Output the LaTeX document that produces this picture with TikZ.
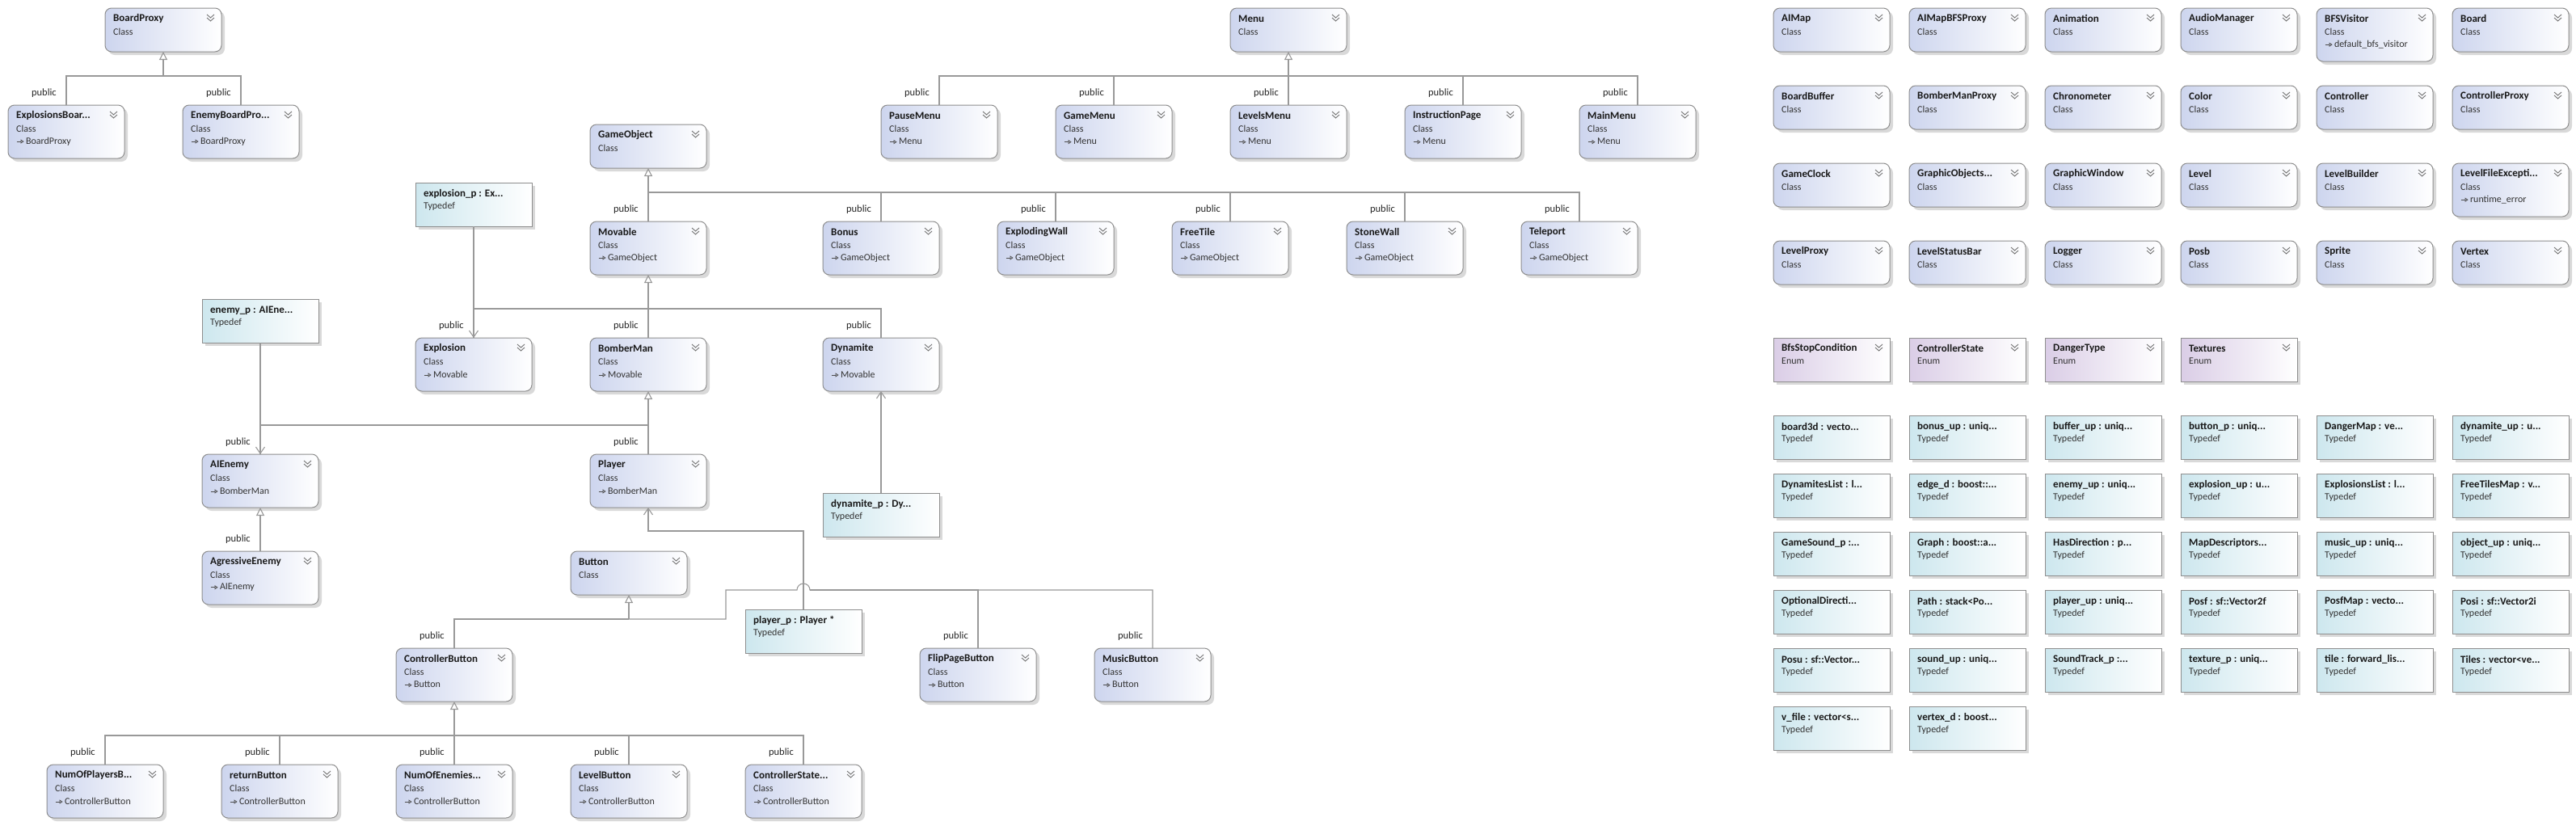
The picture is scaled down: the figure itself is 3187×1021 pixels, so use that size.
\documentclass[tikz,border=0pt]{standalone}
\usepackage{fontspec}
\setmainfont{Carlito}
\usetikzlibrary{shadows,arrows.meta}
\definecolor{bord}{HTML}{8E8E8E}
\definecolor{clsL}{HTML}{CDD5EE}
\definecolor{tdL}{HTML}{CDE7EE}
\definecolor{enL}{HTML}{DACDE6}
\definecolor{lineC}{HTML}{999999}
\definecolor{shad}{HTML}{D9D9D9}
\tikzset{
 ubox/.style={draw=bord, line width=1pt, minimum width=144pt, anchor=north west, inner sep=0pt, outer sep=0pt,
   drop shadow={shadow xshift=4pt, shadow yshift=-4pt, fill=shad, opacity=1}},
 clsbox/.style={ubox, rounded corners=8pt, left color=clsL, right color=white},
 tdbox/.style={ubox, minimum height=54pt, left color=tdL, right color=white},
 enbox/.style={ubox, minimum height=54pt, left color=enL, right color=white},
 nm/.style={anchor=west, inner sep=0pt, font=\fontsize{13}{14}\selectfont\bfseries, text=black!90},
 sub/.style={anchor=west, inner sep=0pt, font=\fontsize{12}{13}\selectfont, text=black!80},
 chev/.style={draw=black!55, line width=0.9pt},
 conn/.style={draw=lineC, line width=1.1pt},
 inhtip/.style={-{Triangle[open, length=10pt, width=10pt, line width=1.1pt]}},
 asstip/.style={-{Straight Barb[length=8pt, width=11pt]}},
 pub/.style={anchor=east, inner sep=0pt, font=\fontsize{12.5}{13}\selectfont, text=black!85},
}
\newcommand\inharrow{\tikz[baseline=-0.55ex]\draw[draw=black!70,line width=0.8pt,-{Triangle[open,length=4pt,width=5pt]}] (0pt,0pt) -- (9pt,0pt);}
\newcommand\chevron[1]{%
 \draw[chev] ([shift={(-18pt,-8pt)}]#1.north east) -- ++(4.5pt,-4pt) -- ++(4.5pt,4pt);
 \draw[chev] ([shift={(-18pt,-12pt)}]#1.north east) -- ++(4.5pt,-4pt) -- ++(4.5pt,4pt);}
\newcommand\klass[4]{%
 \node[clsbox, minimum height=54pt] (#1) at (#2,#3) {};
 \node[nm] (#1-n) at ([shift={(10pt,-13pt)}]#1.north west) {#4};
 \node[sub] (#1-k) at ([shift={(10pt,-29pt)}]#1.north west) {Class};
 \chevron{#1}}
\newcommand\klassb[5]{%
 \node[clsbox, minimum height=66pt] (#1) at (#2,#3) {};
 \node[nm] (#1-n) at ([shift={(10pt,-13pt)}]#1.north west) {#4};
 \node[sub] (#1-k) at ([shift={(10pt,-29pt)}]#1.north west) {Class};
 \node[sub] (#1-b) at ([shift={(10pt,-45pt)}]#1.north west) {\inharrow\,#5};
 \chevron{#1}}
\newcommand\tdef[4]{%
 \node[tdbox] (#1) at (#2,#3) {};
 \node[nm] (#1-n) at ([shift={(10pt,-14pt)}]#1.north west) {#4};
 \node[sub] (#1-k) at ([shift={(10pt,-29pt)}]#1.north west) {Typedef};}
\newcommand\enm[4]{%
 \node[enbox] (#1) at (#2,#3) {};
 \node[nm] (#1-n) at ([shift={(10pt,-13pt)}]#1.north west) {#4};
 \node[sub] (#1-k) at ([shift={(10pt,-29pt)}]#1.north west) {Enum};
 \chevron{#1}}
\newcommand\pub[1]{\node[pub] (#1-pub) at ([shift={(-12pt,15pt)}]#1.north) {public};}
\begin{document}
\begin{tikzpicture}[x=1pt,y=-1pt]
\fill[white] (0,0) rectangle (3187,1021);
\useasboundingbox (0,0) rectangle (3187,1021);
% ---------- left hierarchy ----------
\klass{bp}{130}{10}{BoardProxy}
\klassb{xbp}{10}{130}{ExplosionsBoar...}{BoardProxy}
\klassb{ebp}{226}{130}{EnemyBoardPro...}{BoardProxy}
\klass{menu}{1522}{10}{Menu}
\klassb{pm}{1090}{130}{PauseMenu}{Menu}
\klassb{gm}{1306}{130}{GameMenu}{Menu}
\klassb{lm}{1522}{130}{LevelsMenu}{Menu}
\klassb{ip}{1738}{130}{InstructionPage}{Menu}
\klassb{mm}{1954}{130}{MainMenu}{Menu}
\klass{go}{730}{154}{GameObject}
\tdef{expp}{514}{226}{explosion\_p : Ex...}
\klassb{mov}{730}{274}{Movable}{GameObject}
\klassb{bon}{1018}{274}{Bonus}{GameObject}
\klassb{xw}{1234}{274}{ExplodingWall}{GameObject}
\klassb{ft}{1450}{274}{FreeTile}{GameObject}
\klassb{sw}{1666}{274}{StoneWall}{GameObject}
\klassb{tp}{1882}{274}{Teleport}{GameObject}
\tdef{enp}{250}{370}{enemy\_p : AIEne...}
\klassb{expl}{514}{418}{Explosion}{Movable}
\klassb{bm}{730}{418}{BomberMan}{Movable}
\klassb{dyn}{1018}{418}{Dynamite}{Movable}
\klassb{aie}{250}{562}{AIEnemy}{BomberMan}
\klassb{pl}{730}{562}{Player}{BomberMan}
\tdef{dynp}{1018}{610}{dynamite\_p : Dy...}
\klassb{agr}{250}{682}{AgressiveEnemy}{AIEnemy}
\klass{btn}{706}{682}{Button}
\tdef{pp}{922}{754}{player\_p : Player *}
\klassb{cb}{490}{802}{ControllerButton}{Button}
\klassb{flip}{1138}{802}{FlipPageButton}{Button}
\klassb{mus}{1354}{802}{MusicButton}{Button}
\klassb{nop}{58}{946}{NumOfPlayersB...}{ControllerButton}
\klassb{ret}{274}{946}{returnButton}{ControllerButton}
\klassb{noe}{490}{946}{NumOfEnemies...}{ControllerButton}
\klassb{lvb}{706}{946}{LevelButton}{ControllerButton}
\klassb{csb}{922}{946}{ControllerState...}{ControllerButton}
% ---------- right panel ----------
\klass{a1}{2194}{10}{AIMap}
\klass{a2}{2362}{10}{AIMapBFSProxy}
\klass{a3}{2530}{10}{Animation}
\klass{a4}{2698}{10}{AudioManager}
\klassb{a5}{2866}{10}{BFSVisitor}{default\_bfs\_visitor}
\klass{a6}{3034}{10}{Board}
\klass{b1}{2194}{106}{BoardBuffer}
\klass{b2}{2362}{106}{BomberManProxy}
\klass{b3}{2530}{106}{Chronometer}
\klass{b4}{2698}{106}{Color}
\klass{b5}{2866}{106}{Controller}
\klass{b6}{3034}{106}{ControllerProxy}
\klass{c1}{2194}{202}{GameClock}
\klass{c2}{2362}{202}{GraphicObjects...}
\klass{c3}{2530}{202}{GraphicWindow}
\klass{c4}{2698}{202}{Level}
\klass{c5}{2866}{202}{LevelBuilder}
\klassb{c6}{3034}{202}{LevelFileExcepti...}{runtime\_error}
\klass{d1}{2194}{298}{LevelProxy}
\klass{d2}{2362}{298}{LevelStatusBar}
\klass{d3}{2530}{298}{Logger}
\klass{d4}{2698}{298}{Posb}
\klass{d5}{2866}{298}{Sprite}
\klass{d6}{3034}{298}{Vertex}
\enm{e1}{2194}{418}{BfsStopCondition}
\enm{e2}{2362}{418}{ControllerState}
\enm{e3}{2530}{418}{DangerType}
\enm{e4}{2698}{418}{Textures}
\tdef{f1}{2194}{514}{board3d : vecto...}
\tdef{f2}{2362}{514}{bonus\_up : uniq...}
\tdef{f3}{2530}{514}{buffer\_up : uniq...}
\tdef{f4}{2698}{514}{button\_p : uniq...}
\tdef{f5}{2866}{514}{DangerMap : ve...}
\tdef{f6}{3034}{514}{dynamite\_up : u...}
\tdef{g1}{2194}{586}{DynamitesList : l...}
\tdef{g2}{2362}{586}{edge\_d : boost::...}
\tdef{g3}{2530}{586}{enemy\_up : uniq...}
\tdef{g4}{2698}{586}{explosion\_up : u...}
\tdef{g5}{2866}{586}{ExplosionsList : l...}
\tdef{g6}{3034}{586}{FreeTilesMap : v...}
\tdef{h1}{2194}{658}{GameSound\_p :...}
\tdef{h2}{2362}{658}{Graph : boost::a...}
\tdef{h3}{2530}{658}{HasDirection : p...}
\tdef{h4}{2698}{658}{MapDescriptors...}
\tdef{h5}{2866}{658}{music\_up : uniq...}
\tdef{h6}{3034}{658}{object\_up : uniq...}
\tdef{i1}{2194}{730}{OptionalDirecti...}
\tdef{i2}{2362}{730}{Path : stack<Po...}
\tdef{i3}{2530}{730}{player\_up : uniq...}
\tdef{i4}{2698}{730}{Posf : sf::Vector2f}
\tdef{i5}{2866}{730}{PosfMap : vecto...}
\tdef{i6}{3034}{730}{Posi : sf::Vector2i}
\tdef{j1}{2194}{802}{Posu : sf::Vector...}
\tdef{j2}{2362}{802}{sound\_up : uniq...}
\tdef{j3}{2530}{802}{SoundTrack\_p :...}
\tdef{j4}{2698}{802}{texture\_p : uniq...}
\tdef{j5}{2866}{802}{tile : forward\_lis...}
\tdef{j6}{3034}{802}{Tiles : vector<ve...}
\tdef{k1}{2194}{874}{v\_file : vector<s...}
\tdef{k2}{2362}{874}{vertex\_d : boost...}
% ---------- connectors ----------
\coordinate (bpBus) at (202,94);
\draw[conn] (xbp.north) |- (bpBus);
\draw[conn] (ebp.north) |- (bpBus);
\draw[conn,inhtip] (bpBus) -- (bp.south);
\coordinate (mBus) at (1594,94);
\foreach \c in {pm,gm,lm,ip,mm} {\draw[conn] (\c.north) |- (mBus);}
\draw[conn,inhtip] (mBus) -- (menu.south);
\coordinate (goBus) at (802,238);
\foreach \c in {mov,bon,xw,ft,sw,tp} {\draw[conn] (\c.north) |- (goBus);}
\draw[conn,inhtip] (goBus) -- (go.south);
\coordinate (mvBus) at (802,382);
\foreach \c in {expl,bm,dyn} {\draw[conn] (\c.north) |- (mvBus);}
\draw[conn,inhtip] (mvBus) -- (mov.south);
\coordinate (bmBus) at (802,526);
\foreach \c in {aie,pl} {\draw[conn] (\c.north) |- (bmBus);}
\draw[conn,inhtip] (bmBus) -- (bm.south);
\draw[conn,inhtip] (agr.north) -- (aie.south);
\coordinate (btBus) at (778,766);
\coordinate (btJog) at (898,730);
\coordinate (hopR) at (1002,730);
\draw[conn] (cb.north) |- (btBus);
\draw[conn] (mus.north) |- (hopR) arc[start angle=0, end angle=180, radius=8pt] -- (btJog) -- (btJog |- btBus) -- (btBus);
\draw[conn] (flip.north) |- (hopR);
\draw[conn,inhtip] (btBus) -- (btn.south);
\coordinate (cbBus) at (562,910);
\foreach \c in {nop,ret,noe,lvb,csb} {\draw[conn] (\c.north) |- (cbBus);}
\draw[conn,inhtip] (cbBus) -- (cb.south);
% associations from typedefs
\draw[conn,asstip] (expp.south) -- (expl.north);
\draw[conn,asstip] (enp.south) -- (aie.north);
\draw[conn,asstip] (dynp.north) -- (dyn.south);
\coordinate (ppJog) at (994,657);
\draw[conn,asstip] (pp.north) -- (ppJog) -| (pl.south);
% public labels
\foreach \c in {xbp,ebp,pm,gm,lm,ip,mm,mov,bon,xw,ft,sw,tp,expl,bm,dyn,aie,pl,agr,cb,flip,mus,nop,ret,noe,lvb,csb} {\pub{\c}}
\end{tikzpicture}
\end{document}
